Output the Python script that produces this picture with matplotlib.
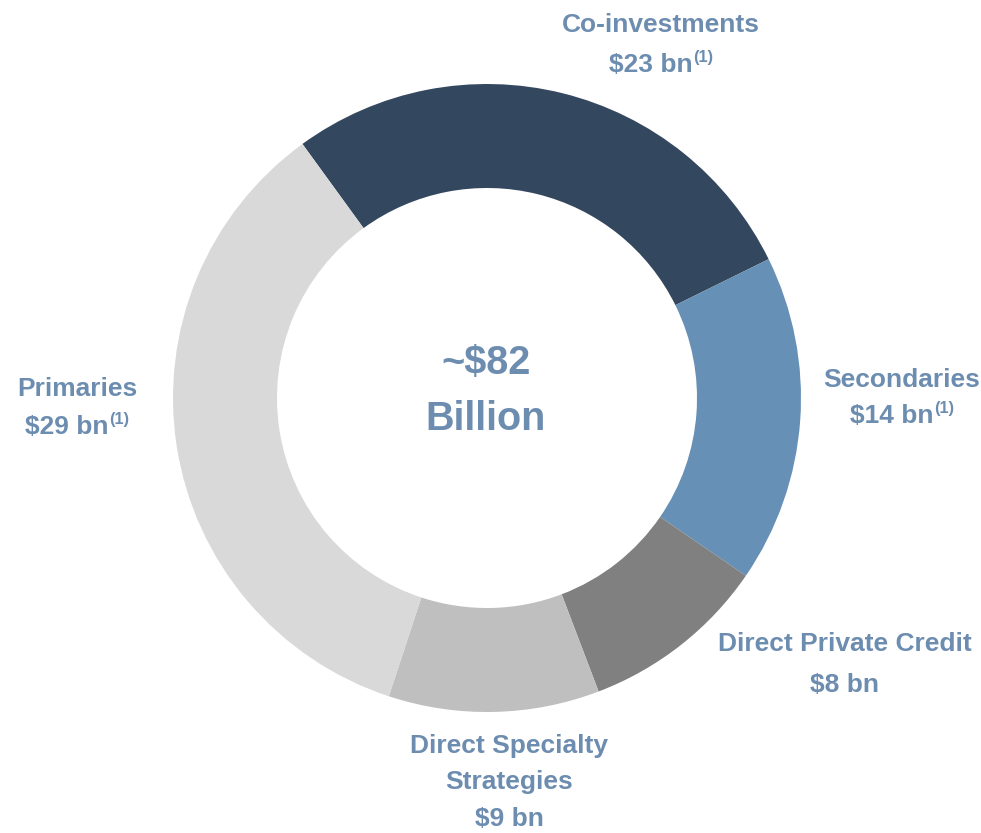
import matplotlib
matplotlib.use("Agg")
import matplotlib.pyplot as plt

categories = ["Co-investments", "Secondaries", "Direct Private Credit",
              "Direct Specialty Strategies", "Primaries"]
values = [23, 14, 8, 9, 29]
colors = ["#33475F", "#6690B5", "#808080", "#BFBFBF", "#D9D9D9"]
label_lines = [["Co-investments", "$23 bn"], ["Secondaries", "$14 bn"],
               ["Direct Private Credit", "$8 bn"],
               ["Direct Specialty", "Strategies", "$9 bn"],
               ["Primaries", "$29 bn"]]
footnote = [True, True, False, False, True]
center_lines = ["~$82", "Billion"]

W, H = 981, 833
TXT = "#6D8DB0"
FAM = ["Liberation Sans", "DejaVu Sans"]

fig = plt.figure(figsize=(W / 100, H / 100), dpi=100)
ax = fig.add_axes([0, 0, 1, 1])

cx, cy, R = 487, H - 398, 314
ax.pie(values, colors=colors, startangle=126, counterclock=False,
       center=(cx, cy), radius=R, wedgeprops=dict(width=R - 210, linewidth=0),
       frame=True)
ax.set_xlim(0, W)
ax.set_ylim(0, H)
ax.axis("off")

renderer = fig.canvas.get_renderer()

def line(x, y, s, sup=False, size=19):
    t = ax.text(x, H - y, s, ha="left", va="center", fontsize=size,
                fontweight="bold", color=TXT, family=FAM)
    w1 = t.get_window_extent(renderer).width
    w2 = 0
    if sup:
        s2 = ax.text(0, 0, "(1)", ha="left", va="center", fontsize=size * 0.62,
                     fontweight="bold", color=TXT, family=FAM)
        w2 = s2.get_window_extent(renderer).width + 1
        s2.set_position((x - (w1 + w2) / 2 + w1 + 1, H - y + 8))
    t.set_position((x - (w1 + w2) / 2, H - y))

pos = [(661, [25, 65]), (902, [380, 416]), (845, [644, 685]),
       (509, [746, 782, 819]), (77, [389, 427])]
for (x, ys), lines, fn in zip(pos, label_lines, footnote):
    for i, (y, s) in enumerate(zip(ys, lines)):
        line(x, y, s, sup=(fn and i == len(lines) - 1))

line(486, 363, center_lines[0], size=28.5)
line(486, 419, center_lines[1], size=28.5)

fig.savefig("out.png", dpi=100)
